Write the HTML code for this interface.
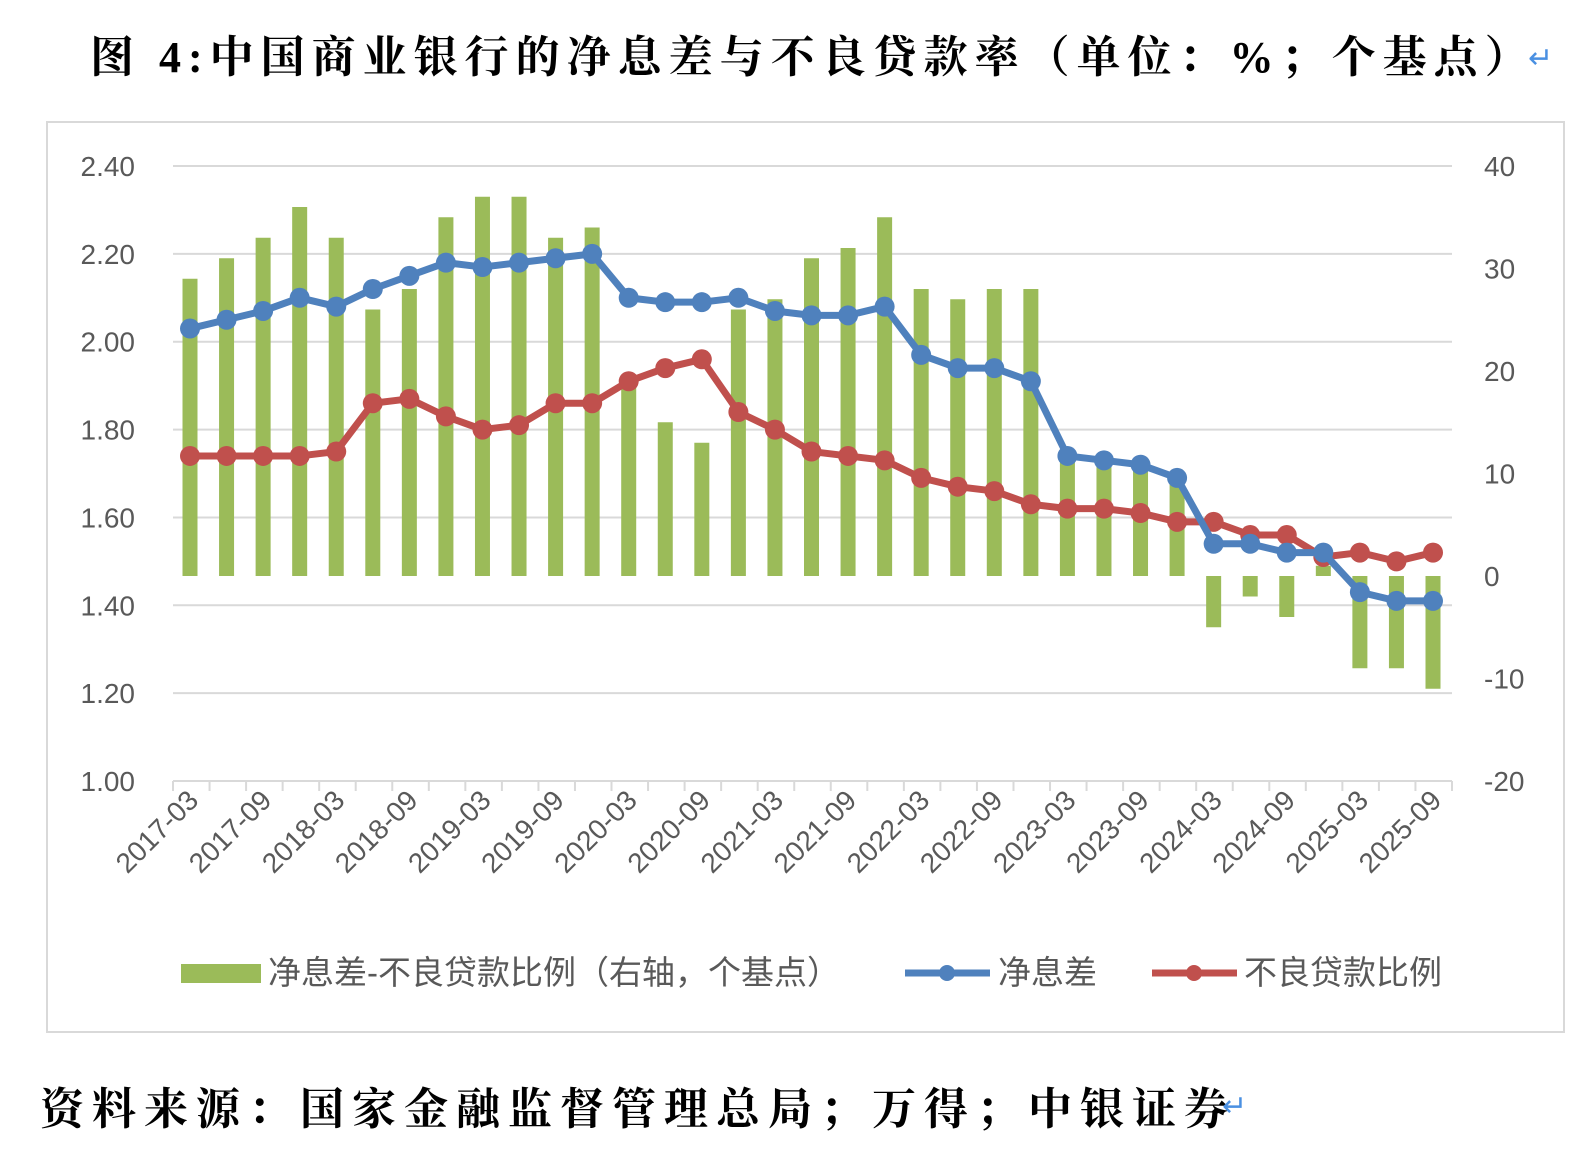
<!DOCTYPE html>
<html><head><meta charset="utf-8"><style>
body{margin:0;background:#fff;width:1582px;height:1166px;overflow:hidden}
svg{display:block}
</style></head><body>
<svg id="s" width="1582" height="1166" xmlns="http://www.w3.org/2000/svg" font-family="Liberation Sans, Noto Sans CJK SC, sans-serif">
<text x="90" y="72" font-family="Liberation Serif, Noto Serif CJK SC, serif" font-weight="bold" font-size="44" letter-spacing="7" fill="#000">图 4:中国商业银行的净息差与不良贷款率（单位：%；个基点）</text>
<text x="1528" y="68" font-size="30" fill="#4a90e2">↵</text>
<rect x="47" y="122" width="1517" height="910" fill="none" stroke="#d9d9d9" stroke-width="2"/>
<g id="grid"></g>
<g id="bars" fill="#9bbb59"></g>
<g id="lines"></g>
<g id="labels" font-size="28" fill="#595959"></g>
<g font-size="33" fill="#595959">
<rect x="181" y="964" width="80" height="19" fill="#9bbb59"/>
<text x="268" y="984">净息差-不良贷款比例（右轴，个基点）</text>
<line x1="905" y1="973" x2="990" y2="973" stroke="#4f81bd" stroke-width="7"/><circle cx="947" cy="973" r="8" fill="#4f81bd"/>
<text x="998" y="984">净息差</text>
<line x1="1152" y1="973" x2="1237" y2="973" stroke="#c0504d" stroke-width="7"/><circle cx="1194" cy="973" r="8" fill="#c0504d"/>
<text x="1244" y="984">不良贷款比例</text>
</g>
<text x="40" y="1124" font-family="Liberation Serif, Noto Serif CJK SC, serif" font-weight="bold" font-size="44" letter-spacing="8" fill="#000">资料来源：国家金融监督管理总局；万得；中银证券</text>
<text x="1222" y="1116" font-size="30" fill="#4a90e2">↵</text>
</svg>
<script>
const NS="http://www.w3.org/2000/svg";
function el(p,t,a,txt){const e=document.createElementNS(NS,t);for(const k in a)e.setAttribute(k,a[k]);if(txt!=null)e.textContent=txt;document.getElementById(p).appendChild(e);return e;}
const nim=[2.03,2.05,2.07,2.10,2.08,2.12,2.15,2.18,2.17,2.18,2.19,2.20,2.10,2.09,2.09,2.10,2.07,2.06,2.06,2.08,1.97,1.94,1.94,1.91,1.74,1.73,1.72,1.69,1.54,1.54,1.52,1.52,1.43,1.41,1.41];
const npl=[1.74,1.74,1.74,1.74,1.75,1.86,1.87,1.83,1.80,1.81,1.86,1.86,1.91,1.94,1.96,1.84,1.80,1.75,1.74,1.73,1.69,1.67,1.66,1.63,1.62,1.62,1.61,1.59,1.59,1.56,1.56,1.51,1.52,1.50,1.52];
const X=i=>190+i*(1433-190)/34;
const YL=v=>166+(2.40-v)/0.2*87.86;
const YR=v=>576-v*10.25;
for(let k=0;k<8;k++){const v=2.4-k*0.2,y=166+k*87.86;
 if(k<7)el("grid","line",{x1:173,x2:1452,y1:y,y2:y,stroke:"#d9d9d9","stroke-width":2});
 el("labels","text",{x:135,y:y+10,"text-anchor":"end"},v.toFixed(2));}
for(let k=0;k<7;k++){const v=40-k*10,y=166+k*102.5;el("labels","text",{x:1484,y:y+10},String(v));}
el("grid","line",{x1:173,x2:1452,y1:781,y2:781,stroke:"#d9d9d9","stroke-width":2});
for(let i=0;i<=35;i++){const x=173+i*(1452-173)/35;el("grid","line",{x1:x,x2:x,y1:781,y2:791,stroke:"#d9d9d9","stroke-width":2});}
for(let i=0;i<35;i++){const d=(nim[i]-npl[i])*100;const y0=YR(0),y1=YR(d);
 el("bars","rect",{x:X(i)-7.5,width:15,y:Math.min(y0,y1),height:Math.abs(y1-y0)});}
for(let i=0;i<35;i+=2){const x=X(i)+10,y=802;el("labels","text",{x:x,y:y,"text-anchor":"end",transform:`rotate(-45 ${x} ${y})`},(2017+Math.floor(i/4))+"-"+(i%4==0?"03":"09"));}
function line(d,c){el("lines","polyline",{points:d.map((v,i)=>X(i)+","+YL(v)).join(" "),fill:"none",stroke:c,"stroke-width":7,"stroke-linejoin":"round"});
 d.forEach((v,i)=>el("lines","circle",{cx:X(i),cy:YL(v),r:10,fill:c}));}
line(npl,"#c0504d");line(nim,"#4f81bd");
</script>
</body></html>
